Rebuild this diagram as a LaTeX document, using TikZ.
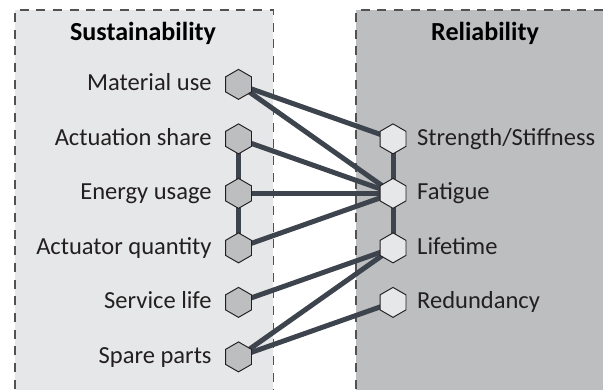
\documentclass[tikz,border=0pt]{standalone}
\usepackage{fontspec}
\setmainfont{Carlito}
\usetikzlibrary{positioning,shapes.geometric,backgrounds}

\definecolor{lightpanel}{RGB}{230,231,232}
\definecolor{darkpanel}{RGB}{188,190,192}
\definecolor{linkgray}{RGB}{62,68,77}
\definecolor{textgray}{RGB}{35,31,32}

\begin{document}
\begin{tikzpicture}[
	hexa/.style={regular polygon, regular polygon sides=6, shape border rotate=90,
		draw=textgray, line width=0.5pt, inner sep=0pt, minimum size=0.55cm},
	sus/.style={hexa, fill=darkpanel},
	rel/.style={hexa, fill=lightpanel},
	lbl/.style={inner sep=0pt, text=textgray, text height=1.6ex, text depth=0.2ex,
		font=\fontsize{12.8}{15}\selectfont},
	head/.style={inner sep=0pt, font=\fontsize{13.6}{16}\selectfont\bfseries},
	link/.style={draw=linkgray, line width=2.6pt},
	frame/.style={draw=black!68, line width=0.7pt, dash pattern=on 4.7pt off 4pt}
]
	\useasboundingbox (0, 0) rectangle (11.064, 7.138);

	\node[head] (sustitle) at (2.624, 6.532) {Sustainability};
	\node[head] (reltitle) at (8.899, 6.532) {Reliability};

	\node[sus] (mat) at (4.376, 5.59)   {};
	\node[sus] (act) at (4.376, 4.59)   {};
	\node[sus] (ene) at (4.376, 3.59)   {};
	\node[sus] (qty) at (4.376, 2.59)   {};
	\node[sus] (ser) at (4.376, 1.59)   {};
	\node[sus] (spa) at (4.376, 0.59)   {};

	\node[rel] (str) at (7.211, 4.59)   {};
	\node[rel] (fat) at (7.211, 3.59)   {};
	\node[rel] (lif) at (7.211, 2.59)   {};
	\node[rel] (red) at (7.211, 1.59)   {};

	\node[lbl, left=0.24cm of mat] (matlabel) {Material use};
	\node[lbl, left=0.24cm of act] (actlabel) {Actuation share};
	\node[lbl, left=0.24cm of ene] (enelabel) {Energy usage};
	\node[lbl, left=0.24cm of qty] (qtylabel) {Actuator quantity};
	\node[lbl, left=0.24cm of ser] (serlabel) {Service life};
	\node[lbl, left=0.24cm of spa] (spalabel) {Spare parts};

	\node[lbl, right=0.19cm of str] (strlabel) {Strength/Stiffness};
	\node[lbl, right=0.19cm of fat] (fatlabel) {Fatigue};
	\node[lbl, right=0.19cm of lif] (liflabel) {Lifetime};
	\node[lbl, right=0.19cm of red] (redlabel) {Redundancy};

	\begin{pgfonlayer}{background}
		% panels
		\fill[lightpanel] (0.275, -0.3) rectangle (5.018, 6.954);
		\fill[darkpanel] (6.532, -0.3) rectangle (11.4, 6.954);
		\draw[frame] (0.275, -0.3) |- (5.018, 6.954) -- (5.018, -0.3);
		\draw[frame] (6.532, -0.3) |- (11.4, 6.954);

		% links
		\path[link] (mat.center) edge (str.center);
		\path[link] (mat.center) edge (fat.center);
		\path[link] (act.center) edge (fat.center);
		\path[link] (ene.center) edge (fat.center);
		\path[link] (qty.center) edge (fat.center);
		\path[link] (ser.center) edge (lif.center);
		\path[link] (spa.center) edge (lif.center);
		\path[link] (spa.center) edge (red.center);
		\path[link] (act.center) edge (ene.center);
		\path[link] (ene.center) edge (qty.center);
		\path[link] (str.center) edge (fat.center);
		\path[link] (fat.center) edge (lif.center);
	\end{pgfonlayer}
\end{tikzpicture}
\end{document}
